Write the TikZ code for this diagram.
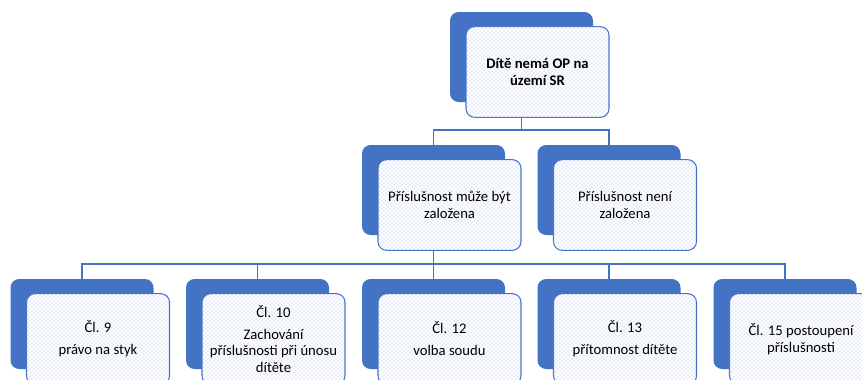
\documentclass[tikz,border=0pt]{standalone}
\usepackage{fontspec}
\setmainfont{Carlito}
\usetikzlibrary{patterns}
\definecolor{myblue}{HTML}{4472C4}
\definecolor{dotblue}{HTML}{A3B8E2}
\begin{document}
\begin{tikzpicture}[x=0.75pt,y=-0.75pt,
  back/.style={fill=myblue, rounded corners=6.5pt, minimum width=107.25pt, minimum height=67.5pt, inner sep=0pt},
  front/.style={draw=myblue, line width=0.8pt, fill=white, postaction={pattern=crosshatch dots, pattern color=dotblue}, rounded corners=6.5pt, minimum width=107.25pt, minimum height=68pt, inner sep=2pt, align=center, font=\fontsize{11}{12.5}\selectfont},
  conn/.style={draw=myblue, line width=1pt}]
\useasboundingbox (0,0) rectangle (862,379);
\clip (0,0) rectangle (862,379);
% back boxes
\node[back] (T) at (521.5,57) {};
\node[back] (M1) at (433.5,190) {};
\node[back] (M2) at (609,190) {};
\node[back] (B1) at (82,324) {};
\node[back] (B2) at (257.5,324) {};
\node[back] (B3) at (433.5,324) {};
\node[back] (B4) at (609,324) {};
\node[back] (B5) at (785,324) {};
% front boxes
\node[front] (Tf) at (537.5,72) {\textbf{Dítě nemá OP na}\\\textbf{území SR}};
\node[front] (M1f) at (449.5,205) {Příslušnost může být\\založena};
\node[front] (M2f) at (625,205) {Příslušnost není\\založena};
\node[front] (B1f) at (98,339) {Čl. 9\\[4pt]právo na styk};
\node[front] (B2f) at (273.5,339) {Čl. 10\\[4pt]Zachování\\příslušnosti při únosu\\dítěte};
\node[front] (B3f) at (449.5,339) {Čl. 12\\[4pt]volba soudu};
\node[front] (B4f) at (625,339) {Čl. 13\\[4pt]přítomnost dítěte};
\node[front] (B5f) at (801,339) {Čl. 15 postoupení\\příslušnosti};
% connectors
\coordinate (h1) at (0,130);
\coordinate (h2) at (0,264);
\draw[conn] (T.south |- Tf.south) -- (T.south |- h1);
\draw[conn] (M1.north) -- (M1.north |- h1) -- (M2.north |- h1) -- (M2.north);
\draw[conn] (M1.south |- M1f.south) -- (M1.south |- h2);
\draw[conn] (B1.north) -- (B1.north |- h2) -- (B5.north |- h2) -- (B5.north);
\foreach \n in {B2,B3,B4} \draw[conn] (\n.north) -- (\n.north |- h2);
\end{tikzpicture}
\end{document}
